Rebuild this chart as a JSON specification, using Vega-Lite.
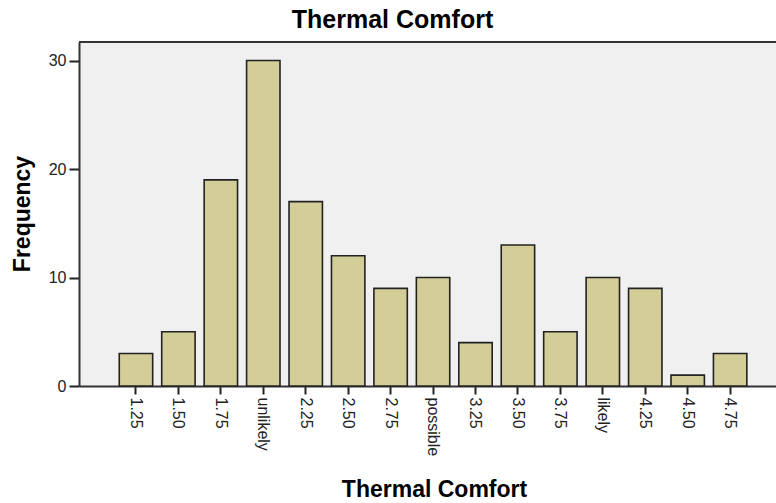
{
  "$schema": "https://vega.github.io/schema/vega-lite/v6.json",
  "width": 697,
  "height": 344,
  "autosize": {"type": "none"},
  "padding": {"left": 79, "top": 42, "right": 0, "bottom": 117},
  "background": "#ffffff",
  "config": {
    "view": {"stroke": null, "fill": "#f0f0f0"},
    "font": "Liberation Sans"
  },
  "title": {
    "text": "Thermal Comfort",
    "font": "Liberation Sans",
    "fontSize": 25,
    "fontWeight": "bold",
    "color": "#000000",
    "anchor": "middle",
    "frame": "group",
    "baseline": "alphabetic",
    "offset": 13,
    "dx": -35,
    "dy": 25
  },
  "data": {
    "values": [
      {"label": "1.25", "freq": 3},
      {"label": "1.50", "freq": 5},
      {"label": "1.75", "freq": 19},
      {"label": "unlikely", "freq": 30},
      {"label": "2.25", "freq": 17},
      {"label": "2.50", "freq": 12},
      {"label": "2.75", "freq": 9},
      {"label": "possible", "freq": 10},
      {"label": "3.25", "freq": 4},
      {"label": "3.50", "freq": 13},
      {"label": "3.75", "freq": 5},
      {"label": "likely", "freq": 10},
      {"label": "4.25", "freq": 9},
      {"label": "4.50", "freq": 1},
      {"label": "4.75", "freq": 3}
    ]
  },
  "layer": [
    {
      "mark": {"type": "bar", "fill": "#d3ce97", "stroke": "#222222", "strokeWidth": 1.6},
      "encoding": {
        "x": {
          "field": "label",
          "type": "nominal",
          "sort": null,
          "scale": {"paddingInner": 0.213, "paddingOuter": 0.818, "align": 0.58},
          "axis": {
            "title": "Thermal Comfort",
            "titleFont": "Liberation Sans",
            "titleFontSize": 23,
            "titleFontWeight": "bold",
            "titleColor": "#000000",
            "titleX": 355,
            "titleY": 110,
            "titleAlign": "center",
            "titleBaseline": "alphabetic",
            "labelAngle": 90,
            "labelFont": "Liberation Sans",
            "labelFontSize": 16,
            "labelColor": "#222222",
            "labelPadding": 3,
            "tickSize": 8,
            "tickColor": "#222222",
            "tickWidth": 2,
            "domainColor": "#333333",
            "domainWidth": 2,
            "grid": false
          }
        },
        "y": {
          "field": "freq",
          "type": "quantitative",
          "scale": {"domain": [0, 31.71], "nice": false},
          "axis": {
            "title": "Frequency",
            "titleFont": "Liberation Sans",
            "titleFontSize": 23,
            "titleFontWeight": "bold",
            "titleColor": "#000000",
            "titleX": -50,
            "titleY": 171.5,
            "titleAngle": -90,
            "titleAlign": "center",
            "titleBaseline": "alphabetic",
            "values": [0, 10, 20, 30],
            "labelFont": "Liberation Sans",
            "labelFontSize": 16,
            "labelColor": "#222222",
            "labelPadding": 3,
            "tickSize": 10,
            "tickColor": "#222222",
            "tickWidth": 2,
            "domainColor": "#333333",
            "domainWidth": 2,
            "grid": false
          }
        }
      }
    },
    {
      "mark": {"type": "rule", "stroke": "#333333", "strokeWidth": 2},
      "encoding": {"y": {"datum": 31.71}}
    }
  ]
}
